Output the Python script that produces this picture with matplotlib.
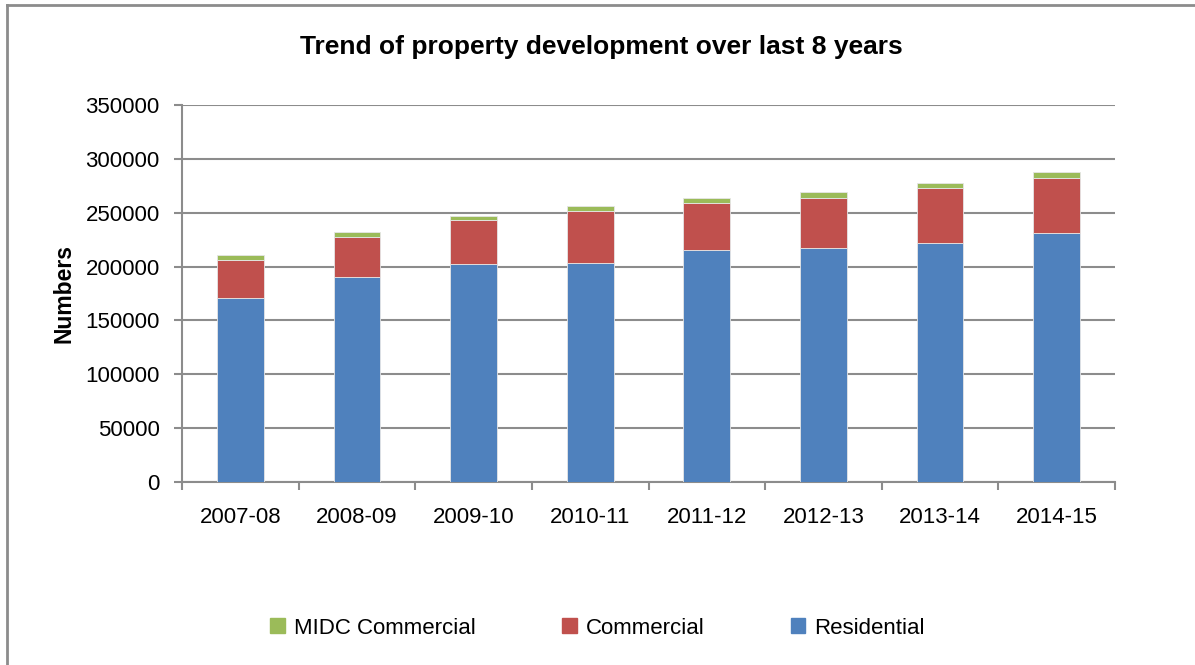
import numpy as np
import matplotlib.pyplot as plt
from matplotlib.patches import Patch
from matplotlib.lines import Line2D

# Property counts per year, stacked
years = ['2007-08', '2008-09', '2009-10', '2010-11', '2011-12', '2012-13', '2013-14', '2014-15']
residential = [171000, 190500, 202000, 202900, 215000, 216800, 221800, 230800]
commercial = [35300, 36900, 40900, 48300, 43900, 47100, 51100, 51700]
midc_commercial = [4300, 4300, 4200, 5000, 4700, 5000, 4900, 5000]

blue = '#4F81BD'
red = '#C0504D'
green = '#9BBB59'
grid_col = '#8C8C8C'

plt.rcParams['font.family'] = ['Liberation Sans', 'DejaVu Sans']

fig = plt.figure(figsize=(11.95, 6.65), dpi=100)
ax = fig.add_axes([182 / 1195, 1 - 482 / 665, (1115 - 182) / 1195, (482 - 105) / 665])

x = np.arange(len(years))
res = np.array(residential)
com = np.array(commercial)
midc = np.array(midc_commercial)
w = 0.4
edge = dict(edgecolor='#E6E6E6', linewidth=0.6)
ax.bar(x, res, w, color=blue, zorder=3, **edge)
ax.bar(x, com, w, bottom=res, color=red, zorder=3, **edge)
ax.bar(x, midc, w, bottom=res + com, color=green, zorder=3, **edge)

ax.set_xlim(-0.5, len(years) - 0.5)
ax.set_ylim(0, 350000)
ax.set_yticks(np.arange(0, 350001, 50000))
ax.yaxis.grid(True, color=grid_col, linewidth=1.5, zorder=0)
ax.set_axisbelow(True)

# category labels centred, tick marks on the boundaries
ax.set_xticks(x)
ax.set_xticklabels(years, fontsize=16)
ax.tick_params(axis='x', which='major', length=0, pad=18)
ax.set_xticks(np.arange(-0.5, len(years)), minor=True)
ax.tick_params(axis='x', which='minor', length=6, width=1.5, color=grid_col)
ax.tick_params(axis='y', length=6, width=1.5, color=grid_col, labelsize=16, pad=10)

for s in ['top', 'right']:
    ax.spines[s].set_visible(False)
for s in ['left', 'bottom']:
    ax.spines[s].set_color(grid_col)
    ax.spines[s].set_linewidth(1.5)

ax.set_ylabel('Numbers', fontsize=16.5, fontweight='bold', labelpad=7)
fig.text(0.503, 1 - 47 / 665, 'Trend of property development over last 8 years',
         ha='center', va='center', fontsize=19, fontweight='bold')

# outer chart frame (top and left edges)
fig.add_artist(Line2D([7 / 1195, 7 / 1195], [0, 1 - 5 / 665], transform=fig.transFigure,
                      color=grid_col, linewidth=2))
fig.add_artist(Line2D([7 / 1195, 1], [1 - 5 / 665, 1 - 5 / 665], transform=fig.transFigure,
                      color=grid_col, linewidth=2))

handles = [Patch(color=green), Patch(color=red), Patch(color=blue)]
fig.legend(handles, ['MIDC Commercial', 'Commercial', 'Residential'],
           loc='center', bbox_to_anchor=(0.5, 1 - 628 / 665), ncol=3, frameon=False,
           fontsize=16, handlelength=0.65, handleheight=0.65, handletextpad=0.4,
           columnspacing=3.9)

fig.savefig('out.png', dpi=100)
